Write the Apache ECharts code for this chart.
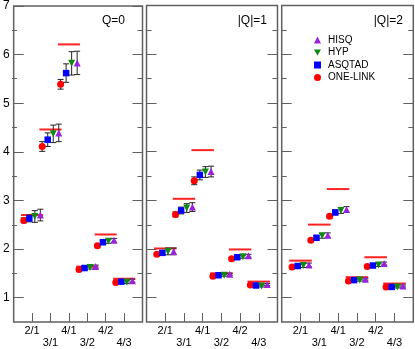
<!DOCTYPE html>
<html>
<head>
<meta charset="utf-8">
<script src="https://cdn.jsdelivr.net/npm/echarts@6/dist/echarts.min.js"></script>
<style>
  html, body { margin: 0; padding: 0; background: #fff; }
  #chart { width: 415px; height: 349px; }
</style>
</head>
<body>
<div id="chart"></div>
<script>
const ratios = ['2/1', '3/1', '4/1', '3/2', '4/2', '4/3']
const panelTitles = ['Q=0', '|Q|=1', '|Q|=2']
const yTicks = [1, 2, 3, 4, 5, 6, 7]
const yHalfTicks = [1.5, 2.5, 3.5, 4.5, 5.5, 6.5]

// one row per panel: Q=0, |Q|=1, |Q|=2 ; one value per ratio
const oneLink = [
  [2.59, 4.11, 5.39, 1.58, 2.07, 1.31],
  [1.89, 2.71, 3.40, 1.44, 1.80, 1.26],
  [1.63, 2.18, 2.67, 1.34, 1.64, 1.22]
]
const oneLinkErr = [
  [0.05, 0.10, 0.10, 0.03, 0.03, 0.02],
  [0.03, 0.05, 0.08, 0.02, 0.02, 0.02],
  [0.02, 0.03, 0.04, 0.02, 0.02, 0.02]
]
const asqtad = [
  [2.63, 4.25, 5.62, 1.61, 2.14, 1.33],
  [1.92, 2.79, 3.52, 1.46, 1.83, 1.25],
  [1.65, 2.23, 2.75, 1.36, 1.66, 1.22]
]
const asqtadErr = [
  [0.07, 0.14, 0.19, 0.03, 0.03, 0.02],
  [0.04, 0.07, 0.10, 0.02, 0.03, 0.02],
  [0.03, 0.04, 0.05, 0.02, 0.02, 0.02]
]
const hyp = [
  [2.67, 4.37, 5.82, 1.62, 2.16, 1.32],
  [1.95, 2.84, 3.58, 1.46, 1.84, 1.24],
  [1.66, 2.27, 2.79, 1.36, 1.67, 1.22]
]
const hypErr = [
  [0.12, 0.18, 0.24, 0.03, 0.04, 0.03],
  [0.07, 0.09, 0.11, 0.02, 0.03, 0.02],
  [0.04, 0.05, 0.06, 0.02, 0.03, 0.02]
]
const hisq = [
  [2.70, 4.39, 5.83, 1.64, 2.18, 1.35],
  [1.95, 2.86, 3.59, 1.48, 1.86, 1.27],
  [1.67, 2.28, 2.81, 1.38, 1.70, 1.24]
]
const hisqErr = [
  [0.12, 0.18, 0.24, 0.03, 0.04, 0.03],
  [0.07, 0.09, 0.11, 0.02, 0.03, 0.02],
  [0.04, 0.05, 0.06, 0.02, 0.03, 0.02]
]
// red reference lines
const continuum = [
  [2.70, 4.46, 6.21, 1.64, 2.30, 1.39],
  [2.01, 3.03, 4.03, 1.50, 1.99, 1.33],
  [1.76, 2.50, 3.23, 1.42, 1.83, 1.29]
]

const font = 'Liberation Sans, Arial, sans-serif'
const frameColor = '#606060'

const actions = [
  { name: 'ONE-LINK', vals: oneLink, errs: oneLinkErr, shift: -0.45, color: '#ff0000', symbol: 'circle', size: 7 },
  { name: 'ASQTAD', vals: asqtad, errs: asqtadErr, shift: -0.15, color: '#0000ff', symbol: 'rect', size: 6.5 },
  { name: 'HYP', vals: hyp, errs: hypErr, shift: 0.15, color: '#118811', symbol: 'path://M0,0L2,0L1,1.75Z', size: 7 },
  { name: 'HISQ', vals: hisq, errs: hisqErr, shift: 0.45, color: '#9922dd', symbol: 'triangle', size: 7 }
]

const panels = [
  { left: 12, width: 130.5, titleRight: 290 },
  { left: 146.5, width: 131, titleRight: 148 },
  { left: 281.7, width: 131.6, titleRight: 12 }
]

function errorBar (params, api) {
  const x = api.value(0)
  const y = api.value(1)
  const e = api.value(2)
  const lo = api.coord([x, y - e])
  const hi = api.coord([x, y + e])
  const style = { stroke: '#222', lineWidth: 1 }
  const cap = 3
  return {
    type: 'group',
    children: [
      { type: 'line', shape: { x1: lo[0], y1: lo[1], x2: hi[0], y2: hi[1] }, style: style },
      { type: 'line', shape: { x1: lo[0] - cap, y1: lo[1], x2: lo[0] + cap, y2: lo[1] }, style: style },
      { type: 'line', shape: { x1: hi[0] - cap, y1: hi[1], x2: hi[0] + cap, y2: hi[1] }, style: style }
    ]
  }
}

function refLine (params, api) {
  const a = api.coord([api.value(0) - 0.6, api.value(1)])
  const b = api.coord([api.value(0) + 0.6, api.value(1)])
  return {
    type: 'line',
    shape: { x1: a[0], y1: a[1], x2: b[0], y2: b[1] },
    style: { stroke: '#ff2222', lineWidth: 2 }
  }
}

const grid = []
const xAxis = []
const yAxis = []
const series = []
const title = []

panels.forEach((p, i) => {
  grid.push({ left: p.left, width: p.width, top: 5.5, bottom: 26.7, show: true, borderColor: frameColor, borderWidth: 1.5 })
  title.push({
    text: panelTitles[i], right: p.titleRight, top: 15, padding: 0,
    textStyle: { fontSize: 12, fontWeight: 'normal', color: '#000', fontFamily: font }
  })
})
// overlay grids carry the half-step ticks
panels.forEach((p) => {
  grid.push({ left: p.left, width: p.width, top: 5.5, bottom: 26.7, show: false })
})

panels.forEach((p, i) => {
  xAxis.push({
    type: 'value', gridIndex: i, min: 0, max: 7,
    axisLine: { show: false },
    splitLine: { show: false },
    axisTick: { inside: true, length: 9, customValues: [1, 2, 3, 4, 5, 6], lineStyle: { color: frameColor } },
    axisLabel: {
      customValues: [1, 2, 3, 4, 5, 6],
      margin: 3, fontSize: 11, lineHeight: 12, color: '#000', fontFamily: font,
      formatter: (v) => {
        const k = Math.round(v) - 1
        return k % 2 === 0 ? ratios[k] : '\n' + ratios[k]
      }
    }
  })
})
panels.forEach((p, i) => {
  xAxis.push({ type: 'value', gridIndex: 3 + i, min: 0, max: 7, show: false })
})

panels.forEach((p, i) => {
  ['left', 'right'].forEach((side) => {
    yAxis.push({
      type: 'value', gridIndex: i, position: side, min: 0.5, max: 7,
      axisLine: { show: false },
      splitLine: { show: false },
      axisTick: { inside: true, length: 10, customValues: yTicks, lineStyle: { color: frameColor } },
      axisLabel: {
        show: i === 0 && side === 'left',
        customValues: yTicks, margin: 4, fontSize: 12, color: '#000', fontFamily: font
      }
    })
  })
})
panels.forEach((p, i) => {
  ['left', 'right'].forEach((side) => {
    yAxis.push({
      type: 'value', gridIndex: 3 + i, position: side, min: 0.5, max: 7,
      axisLine: { show: false },
      splitLine: { show: false },
      axisTick: { inside: true, length: 5, customValues: yHalfTicks, lineStyle: { color: frameColor } },
      axisLabel: { show: false }
    })
  })
})

panels.forEach((p, i) => {
  series.push({
    type: 'custom', xAxisIndex: i, yAxisIndex: 2 * i, z: 1,
    renderItem: refLine, silent: true,
    encode: { x: 0, y: 1 },
    data: continuum[i].map((v, k) => [k + 1, v])
  })
  actions.forEach((a) => {
    series.push({
      type: 'custom', xAxisIndex: i, yAxisIndex: 2 * i, z: 2,
      renderItem: errorBar, silent: true,
      encode: { x: 0, y: 1 },
      data: a.vals[i].map((v, k) => [k + 1 + a.shift, v, a.errs[i][k]])
    })
  })
  actions.forEach((a, j) => {
    series.push({
      name: a.name, type: 'scatter', xAxisIndex: i, yAxisIndex: 2 * i, z: 3 + j,
      symbol: a.symbol, symbolSize: a.size,
      itemStyle: { color: a.color, opacity: 1 },
      data: a.vals[i].map((v, k) => [k + 1 + a.shift, v])
    })
  })
})

const chart = echarts.init(document.getElementById('chart'))
chart.setOption({
  animation: false,
  title: title,
  legend: {
    data: ['HISQ', 'HYP', 'ASQTAD', 'ONE-LINK'],
    orient: 'vertical', left: 309, top: 30,
    itemWidth: 7, itemHeight: 7, itemGap: 2.5,
    textStyle: { fontSize: 10, color: '#000', fontFamily: font, padding: [0, 0, 0, 2] }
  },
  grid: grid,
  xAxis: xAxis,
  yAxis: yAxis,
  series: series
})
</script>
</body>
</html>
